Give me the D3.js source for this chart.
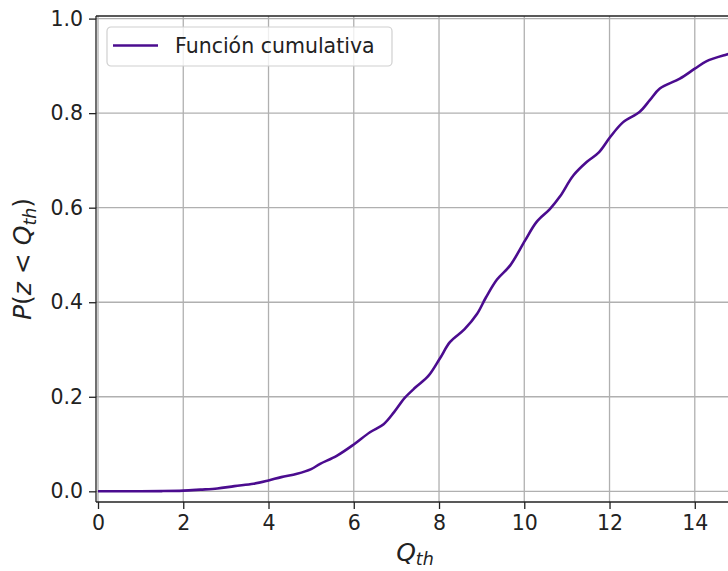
<!DOCTYPE html>
<html>
<head>
<meta charset="utf-8">
<script src="https://cdn.jsdelivr.net/npm/d3@7"></script>
<style>
  body { margin: 0; background: #fff; }
  svg { display: block; font-family: "DejaVu Sans", sans-serif; }
</style>
</head>
<body>
<svg id="chart" width="728" height="571"></svg>
<script>
// threshold values and cumulative probability
const qth = [0, 0.5, 1, 1.5, 2, 2.4, 2.8, 3.2, 3.65, 4.0, 4.3, 4.67, 5.0, 5.21, 5.6, 6.0,
  6.38, 6.7, 6.95, 7.2, 7.45, 7.75, 8.02, 8.26, 8.6, 8.89, 9.1, 9.36, 9.67, 10.02,
  10.29, 10.6, 10.84, 11.15, 11.47, 11.75, 12.02, 12.32, 12.71, 12.95, 13.18, 13.65,
  14.0, 14.28, 14.75, 15.0];
const cdf = [0, 0, 0.0002, 0.0005, 0.0015, 0.0036, 0.006, 0.011, 0.016, 0.023, 0.03,
  0.037, 0.047, 0.058, 0.075, 0.099, 0.125, 0.142, 0.168, 0.198, 0.22, 0.244, 0.281,
  0.316, 0.343, 0.375, 0.41, 0.448, 0.478, 0.531, 0.570, 0.597, 0.624, 0.668, 0.697,
  0.717, 0.750, 0.781, 0.803, 0.828, 0.852, 0.873, 0.894, 0.910, 0.924, 0.93];
const xTicks = [0, 2, 4, 6, 8, 10, 12, 14];
const yTicks = [0.0, 0.2, 0.4, 0.6, 0.8, 1.0];
const seriesName = "Función cumulativa";

(() => {
    const svg = d3.select("#chart");
    const pLeft = 96, pRight = 734, pTop = 16, pBottom = 502;

    let x = d3.scaleLinear().domain([-0.047, 14.92]).range([pLeft, pRight]);
    let y = d3.scaleLinear().domain([-0.0226, 1.0055]).range([pBottom, pTop]);

    // grid
    let grid = svg.append("g").attr("stroke", "#b0b0b0").attr("stroke-width", 1.3);
    grid.selectAll("line.gx").data(xTicks).join("line").attr("class", "gx")
        .attr("x1", d => x(d)).attr("x2", d => x(d))
        .attr("y1", pTop).attr("y2", pBottom);
    grid.selectAll("line.gy").data(yTicks).join("line").attr("class", "gy")
        .attr("x1", pLeft).attr("x2", pRight)
        .attr("y1", d => y(d)).attr("y2", d => y(d));

    // curve
    let line = d3.line()
        .x((d, i) => x(qth[i]))
        .y(d => y(d))
        .curve(d3.curveCatmullRom.alpha(0.5));
    svg.append("path")
        .datum(cdf)
        .attr("d", line)
        .attr("fill", "none")
        .attr("stroke", "#4b0c8f")
        .attr("stroke-width", 2.6);

    // axes
    let xAxis = d3.axisBottom(x).tickValues(xTicks).tickSizeOuter(0).tickSize(7).tickPadding(6)
        .tickFormat(d3.format("d"));
    let yAxis = d3.axisLeft(y).tickValues(yTicks).tickSizeOuter(0).tickSize(7).tickPadding(6)
        .tickFormat(d3.format(".1f"));

    let gx = svg.append("g").attr("transform", "translate(0," + pBottom + ")").call(xAxis);
    let gy = svg.append("g").attr("transform", "translate(" + pLeft + ",0)").call(yAxis);
    [gx, gy].forEach(g => {
        g.selectAll("text").attr("font-size", 20.5).attr("font-family", "DejaVu Sans").attr("fill", "#222");
        g.selectAll(".tick line").attr("stroke", "#222").attr("stroke-width", 1.3);
        g.select(".domain").remove();
    });

    // spines
    let spines = svg.append("g").attr("stroke", "#222").attr("stroke-width", 1.3).attr("fill", "none");
    spines.append("line").attr("x1", pLeft).attr("x2", pLeft).attr("y1", pTop).attr("y2", pBottom);
    spines.append("line").attr("x1", pLeft).attr("x2", pRight).attr("y1", pBottom).attr("y2", pBottom);
    spines.append("line").attr("x1", pLeft).attr("x2", pRight).attr("y1", pTop).attr("y2", pTop);
    spines.append("line").attr("x1", pRight).attr("x2", pRight).attr("y1", pTop).attr("y2", pBottom);

    // axis labels
    let xl = svg.append("text")
        .attr("x", (pLeft + pRight) / 2).attr("y", 561)
        .attr("text-anchor", "middle").attr("font-size", 25).attr("fill", "#222");
    xl.append("tspan").attr("font-style", "italic").text("Q");
    xl.append("tspan").attr("font-style", "italic").attr("font-size", 17.5).attr("dy", 4).text("th");

    let yl = svg.append("text")
        .attr("transform", "translate(31," + ((pTop + pBottom) / 2) + ") rotate(-90)")
        .attr("text-anchor", "middle").attr("font-size", 25).attr("fill", "#222");
    yl.append("tspan").attr("font-style", "italic").text("P");
    yl.append("tspan").text("(");
    yl.append("tspan").attr("font-style", "italic").text("z");
    yl.append("tspan").text(" < ");
    yl.append("tspan").attr("font-style", "italic").text("Q");
    yl.append("tspan").attr("font-style", "italic").attr("font-size", 17.5).attr("dy", 5).text("th");
    yl.append("tspan").attr("dy", -5).text(")");

    // legend
    let lg = svg.append("g").attr("transform", "translate(107,27)");
    lg.append("rect")
        .attr("width", 285).attr("height", 39).attr("rx", 4)
        .attr("fill", "rgba(255,255,255,0.8)")
        .attr("stroke", "#d0d0d0").attr("stroke-width", 1.2);
    lg.append("line")
        .attr("x1", 6).attr("x2", 51).attr("y1", 18.5).attr("y2", 18.5)
        .attr("stroke", "#4b0c8f").attr("stroke-width", 2.6);
    lg.append("text")
        .attr("x", 68).attr("y", 26).attr("font-size", 20.5).attr("fill", "#222")
        .text(seriesName);
})();
</script>
</body>
</html>
